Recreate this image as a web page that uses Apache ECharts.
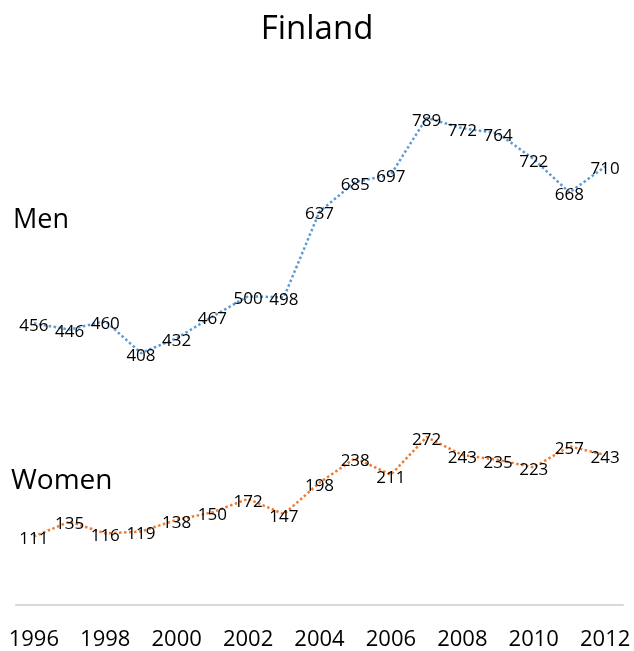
<!DOCTYPE html>
<html>
<head>
<meta charset="utf-8">
<script src="https://cdn.jsdelivr.net/npm/echarts@6/dist/echarts.min.js"></script>
<style>
  html, body { margin: 0; padding: 0; background: #fff; }
  #main { width: 634px; height: 651px; }
</style>
</head>
<body>
<div id="main"></div>
<script>
var years = ['1996', '1997', '1998', '1999', '2000', '2001', '2002', '2003', '2004',
             '2005', '2006', '2007', '2008', '2009', '2010', '2011', '2012'];
var men = [456, 446, 460, 408, 432, 467, 500, 498, 637, 685, 697, 789, 772, 764, 722, 668, 710];
var women = [111, 135, 116, 119, 138, 150, 172, 147, 198, 238, 211, 272, 243, 235, 223, 257, 243];

var font = '"Open Sans", "Noto Sans", sans-serif';
var chart = echarts.init(document.getElementById('main'));

function lineSeries(name, data, color) {
  return {
    name: name,
    type: 'line',
    data: data,
    symbol: 'circle',
    symbolSize: 2,
    showSymbol: true,
    showAllSymbol: true,
    itemStyle: { color: 'rgba(0,0,0,0)', borderWidth: 0 },
    lineStyle: { color: color, width: 2.5, type: 'dotted' },
    label: {
      show: true,
      position: 'inside',
      offset: [0, 3],
      color: '#000',
      fontSize: 17,
      fontFamily: font
    }
  };
}

chart.setOption({
  animation: false,
  title: {
    text: 'Finland',
    left: 'center',
    top: 8,
    textStyle: { fontSize: 33, fontWeight: 'normal', color: '#000', fontFamily: font }
  },
  graphic: [
    { type: 'text', left: 13, top: 207, style: { text: 'Men', fontSize: 27, fill: '#000', fontFamily: font } },
    { type: 'text', left: 11, top: 467, style: { text: 'Women', fontSize: 28, fill: '#000', fontFamily: font } }
  ],
  grid: { left: 16, right: 11, top: 111, bottom: 42 },
  xAxis: {
    type: 'category',
    data: years,
    boundaryGap: true,
    axisLine: { lineStyle: { color: '#d9d9d9', width: 2 } },
    axisTick: { show: false },
    axisLabel: {
      interval: 1,
      margin: 24,
      fontSize: 22,
      color: '#000',
      fontFamily: font
    }
  },
  yAxis: {
    type: 'value',
    min: 0,
    max: 800,
    show: false
  },
  series: [
    lineSeries('Men', men, '#5b9bd5'),
    lineSeries('Women', women, '#ed7d31')
  ]
});
</script>
</body>
</html>
